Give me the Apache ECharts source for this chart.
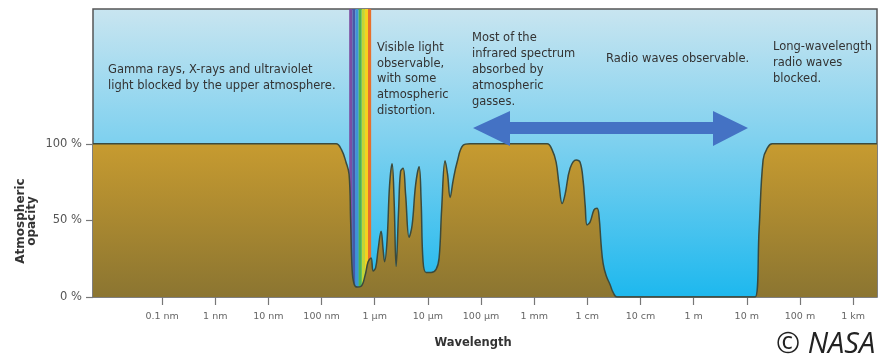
<!DOCTYPE html>
<html>
<head>
<meta charset="utf-8">
<title>Atmospheric opacity vs wavelength</title>
<script src="https://cdn.jsdelivr.net/npm/echarts@6/dist/echarts.min.js"></script>
<style>
  html, body { margin: 0; padding: 0; background: #ffffff; }
  #chart { width: 879px; height: 354px; }
</style>
</head>
<body>
<div id="chart"></div>
<script>
// Wavelength as log10(metres) and the matching atmospheric opacity in percent
const wavelengthLog = [
  -11.3, -7.0, -6.726, -6.623, -6.54, -6.482, -6.453, -6.425, -6.388, -6.331,
  -6.256, -6.181, -6.124, -6.068, -6.03, -5.983, -5.936, -5.88, -5.842, -5.814,
  -5.767, -5.72, -5.673, -5.635, -5.597, -5.55, -5.513, -5.466, -5.419, -5.353,
  -5.296, -5.231, -5.165, -5.127, -5.09, -5.033, -4.939, -4.845, -4.788, -4.741,
  -4.676, -4.629, -4.581, -4.525, -4.45, -4.337, -4.205, -2.756, -2.662, -2.587,
  -2.531, -2.474, -2.418, -2.324, -2.211, -2.136, -2.079, -2.041, -2.004, -1.947,
  -1.872, -1.816, -1.778, -1.74, -1.703, -1.646, -1.571, -1.515, -1.44, 1.157,
  1.232, 1.307, 1.383, 1.477, 3.45
];
const opacityPct = [
  100, 100, 100, 96, 88, 80, 50, 18, 8.5, 6.5,
  7, 14, 23, 25.5, 17, 19, 31, 43, 31, 23,
  37, 73, 87, 63, 20, 57, 82, 84, 67, 39,
  47, 73, 85, 63, 23, 16, 16, 18, 25.5, 57,
  89, 80, 65, 76, 88, 99, 100, 100, 96, 88,
  73, 61, 67, 84, 89.5, 88, 76, 60, 47, 49,
  57, 58, 52, 34, 22, 14, 8, 3, 0, 0,
  44, 89.5, 97, 100, 100
];

// Axis ticks
const tickExponents = [-10, -9, -8, -7, -6, -5, -4, -3, -2, -1, 0, 1, 2, 3];
const tickLabels = ['0.1 nm', '1 nm', '10 nm', '100 nm', '1 µm', '10 µm', '100 µm',
                    '1 mm', '1 cm', '10 cm', '1 m', '10 m', '100 m', '1 km'];
const opacityTicks = [0, 50, 100];

// Visible band, split into colour stripes (log10 metres)
const spectrumEdges = [-6.48, -6.421, -6.362, -6.303, -6.244, -6.185, -6.126, -6.067];
const spectrumColors = ['#7b4ea3', '#4659a8', '#3f93d6', '#4db352', '#c3d534', '#f5d21e', '#e8702c'];

const curve = wavelengthLog.map((w, i) => [w, opacityPct[i]]);
const spectrumAreas = spectrumColors.map((c, i) => [
  { xAxis: spectrumEdges[i], itemStyle: { color: c } },
  { xAxis: spectrumEdges[i + 1] }
]);

const textColor = '#333333';
const noteFont = '11.5px "DejaVu Sans"';

const chart = echarts.init(document.getElementById('chart'), null, { renderer: 'canvas' });

chart.setOption({
  animation: false,
  backgroundColor: '#ffffff',
  grid: {
    left: 93, right: 2, top: 9, bottom: 57,
    show: true,
    borderColor: '#555555',
    borderWidth: 1.5,
    backgroundColor: {
      type: 'linear', x: 0, y: 0, x2: 0, y2: 1,
      colorStops: [
        { offset: 0, color: '#c9e5f0' },
        { offset: 0.45, color: '#80d1ef' },
        { offset: 1, color: '#1db8ee' }
      ]
    }
  },
  xAxis: {
    type: 'value',
    min: -11.3,
    max: 3.45,
    axisLine: { show: false, onZero: false },
    splitLine: { show: false },
    axisTick: {
      show: true,
      customValues: tickExponents,
      length: 8,
      lineStyle: { color: '#777777', width: 1.2 }
    },
    axisLabel: {
      customValues: tickExponents,
      formatter: v => tickLabels[tickExponents.indexOf(Math.round(v))] || '',
      color: '#666666',
      fontFamily: 'DejaVu Sans',
      fontSize: 9.5,
      margin: 15
    }
  },
  yAxis: {
    type: 'value',
    min: 0,
    max: 188,
    axisLine: { show: false, onZero: false },
    splitLine: { show: false },
    axisTick: {
      show: true,
      customValues: opacityTicks,
      length: 7,
      lineStyle: { color: '#777777', width: 1.2 }
    },
    axisLabel: {
      customValues: opacityTicks,
      formatter: '{value} %',
      color: '#555555',
      fontFamily: 'DejaVu Sans',
      fontSize: 11.5,
      margin: 11
    }
  },
  series: [
    {
      // visible-light stripes, sitting behind the opacity fill
      type: 'line',
      data: [],
      z: 1,
      silent: true,
      markArea: {
        silent: true,
        itemStyle: { opacity: 1 },
        data: spectrumAreas
      }
    },
    {
      type: 'line',
      data: curve,
      z: 2,
      symbol: 'none',
      smooth: 0.4,
      lineStyle: { color: '#3b4a3d', width: 1.5 },
      areaStyle: {
        opacity: 1,
        color: {
          type: 'linear', x: 0, y: 0, x2: 0, y2: 1,
          colorStops: [
            { offset: 0, color: '#c79b30' },
            { offset: 1, color: '#8b7531' }
          ]
        }
      }
    }
  ],
  graphic: [
    {
      type: 'text', left: 108, top: 62,
      style: { text: 'Gamma rays, X-rays and ultraviolet\nlight blocked by the upper atmosphere.',
               font: noteFont, fill: textColor, lineHeight: 16 }
    },
    {
      type: 'text', left: 377, top: 40,
      style: { text: 'Visible light\nobservable,\nwith some\natmospheric\ndistortion.',
               font: noteFont, fill: textColor, lineHeight: 15.8 }
    },
    {
      type: 'text', left: 472, top: 30,
      style: { text: 'Most of the\ninfrared spectrum\nabsorbed by\natmospheric\ngasses.',
               font: noteFont, fill: textColor, lineHeight: 16 }
    },
    {
      type: 'text', left: 606, top: 51,
      style: { text: 'Radio waves observable.', font: noteFont, fill: textColor, lineHeight: 16 }
    },
    {
      type: 'text', left: 773, top: 39,
      style: { text: 'Long-wavelength\nradio waves\nblocked.',
               font: noteFont, fill: textColor, lineHeight: 16 }
    },
    {
      // double-headed arrow across the radio window
      type: 'polygon',
      shape: {
        points: [[473, 128], [510, 111], [510, 122], [713, 122], [713, 111],
                 [748, 128], [713, 146], [713, 134], [510, 134], [510, 146]]
      },
      style: { fill: '#4472c4' },
      z: 10
    },
    {
      type: 'text', x: 26, y: 221, rotation: Math.PI / 2,
      style: { text: 'Atmospheric\nopacity', font: 'bold 12px "DejaVu Sans"', fill: '#333333',
               align: 'center', verticalAlign: 'middle', lineHeight: 11 }
    },
    {
      type: 'text', x: 473, y: 343,
      style: { text: 'Wavelength', font: 'bold 11.5px "DejaVu Sans"', fill: '#333333',
               align: 'center', verticalAlign: 'middle' }
    },
    {
      type: 'text', x: 776, y: 345, z: 20,
      style: { text: '© NASA', font: 'italic 29px "Open Sans"', fill: '#222222',
               align: 'left', verticalAlign: 'middle' }
    }
  ]
});
</script>
</body>
</html>
